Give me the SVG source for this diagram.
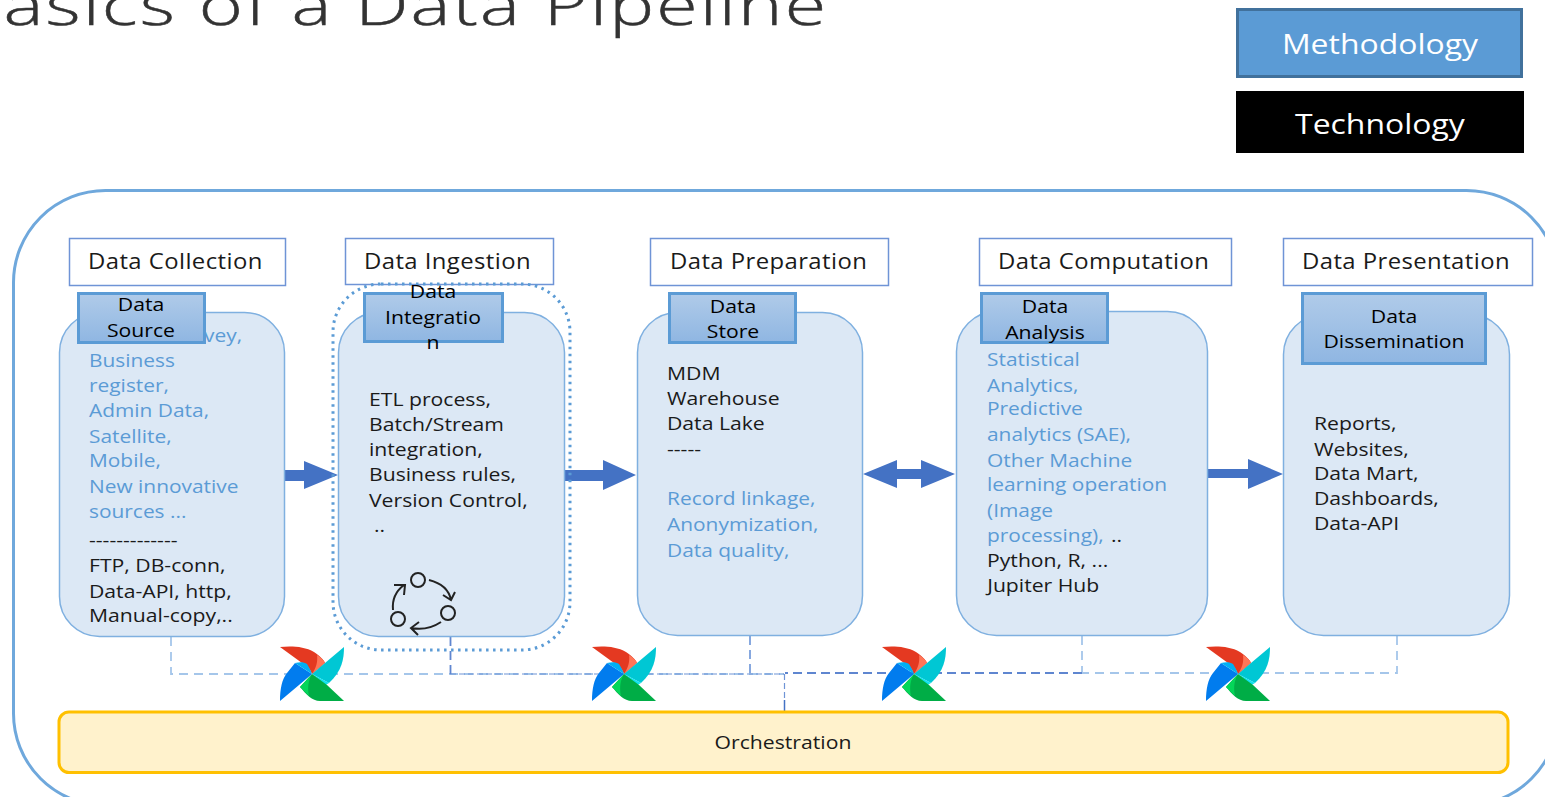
<svg xmlns="http://www.w3.org/2000/svg" width="1545" height="797" viewBox="0 0 1545 797">
<style>
text{font-family:"Open Sans","Noto Sans","Liberation Sans",sans-serif;font-size:19px;fill:#1a1a1a;transform:scaleX(1.115);transform-box:fill-box;transform-origin:0% 50%}
.m{text-anchor:middle;transform-origin:50% 50%}
.h{font-size:22px;letter-spacing:.4px;transform:scaleX(1.085)}
.b{fill:#5b9bd5;font-weight:500;transform:scaleX(1.1)}
.t{fill:#000}
.leg{font-size:28px;fill:#fff;transform:scaleX(1.14)}
.hdr{fill:#fff;stroke:#6f94d6;stroke-width:1.5}
.card{fill:#dce8f5;stroke:#7fb0e0;stroke-width:1.5}
.tab{fill:url(#tabg);stroke:#5b9bd5;stroke-width:3}
.dl{fill:none;stroke:#a5c6ea;stroke-width:1.8;stroke-dasharray:9 6}
.dd{fill:none;stroke:#5f86d0;stroke-width:1.8;stroke-dasharray:9 5}
.df{fill:none;stroke:#6f94d6;stroke-width:1.2;stroke-dasharray:6 3}
.ar{fill:#4472c4}
</style>
<defs>
<linearGradient id="tabg" x1="0" y1="0" x2="0" y2="1"><stop offset="0" stop-color="#b0cbe9"/><stop offset="1" stop-color="#8fb6e2"/></linearGradient>
<g id="pin">
<path fill="#e43921" d="M-32,-27C-22,-28 -8,-28 2,-22C8,-18 12,-14 13,-11L0,0C-2,-5 -5,-9 -10,-11Z"/>
<path fill="#ff7557" d="M5,-19C9,-16 12,-14 13,-11L0,0C4,-6 6,-12 5,-19Z"/>
<path fill="#00c7d4" d="M32,-27C32,-15 30,-3 17,9L0,0L13,-11Z"/>
<path fill="#11e1ee" d="M0,0L17,9L12,12C8,7 4,3 0,0Z"/>
<path fill="#00ad46" d="M32,27L15,11L0,0L-12,13C-6,20 0,27 8,27Z"/>
<path fill="#04d659" d="M0,0L-12,13C-8,17 -5,20 -3,22C-5,12 -3,5 0,0Z"/>
<path fill="#017cee" d="M-32,27C-32,15 -30,5 -25,-1L-17,-11L0,0L-13,11Z"/>
<path fill="#00b0f5" d="M-17,-11C-12,-12 -8,-12 -5,-10C-3,-7 -1,-3 0,0Z"/>
</g>
</defs>

<g id="title"><text x="-46" y="25" style="font-size:56px;font-weight:300;fill:#333;stroke:#333;stroke-width:.5;letter-spacing:1.6px;transform:scaleX(1.345)">Basics of a Data Pipeline</text></g>

<g id="legend-methodology"><rect x="1237.500" y="9.500" width="284" height="67" fill="#5b9bd5" stroke="#41719c" stroke-width="3"/><text class="m leg" x="1380" y="54">Methodology</text></g>
<g id="legend-technology"><rect x="1236" y="91" width="288" height="62" fill="#000"/><text class="m leg" x="1380" y="134">Technology</text></g>

<g id="frame"><rect x="13.500" y="190.500" width="1545" height="615" rx="92" ry="92" fill="none" stroke="#6fa8dc" stroke-width="3"/></g>

<g id="connectors">
<path class="dl" d="M171,637V674H784"/>
<path class="df" d="M450,674H784"/>
<path class="dd" d="M450.500,637V674"/>
<path class="dd" d="M750,636V673" style="stroke:#7a9fdc"/>
<path class="dl" d="M1082,636V673"/>
<path class="dd" d="M1082,673H785"/>
<path class="dl" d="M1397,636V673H1082"/>
<path class="df" d="M784.500,674V700"/>
<path d="M784.500,700V712" fill="none" stroke="#4472c4" stroke-width="1.500"/>
<path class="ar" d="M284,470H304V461L338,475L304,489V481H284Z"/>
<path class="ar" d="M564,470H603V460L636,475L603,490V481H564Z"/>
<path class="ar" d="M863,474L897,460V469H921V460L955,474L921,488V479H897V488Z"/>
<path class="ar" d="M1207,469H1248V459L1283,474L1248,489V478H1207Z"/>
</g>

<g id="collection">
<rect class="hdr" x="69.500" y="238.500" width="216" height="47"/>
<text class="h" x="88" y="269">Data Collection</text>
<rect class="card" x="59.500" y="312.500" width="225" height="324" rx="40"/>
<text class="b" x="204" y="342">vey,</text>
<text class="b" x="89" y="367">Business</text>
<text class="b" x="89" y="392">register,</text>
<text class="b" x="89" y="417">Admin Data,</text>
<text class="b" x="89" y="443">Satellite,</text>
<text class="b" x="89" y="467">Mobile,</text>
<text class="b" x="89" y="493">New innovative</text>
<text class="b" x="89" y="518">sources ...</text>
<text x="89" y="547">-------------</text>
<text x="89" y="572">FTP, DB-conn,</text>
<text x="89" y="598">Data-API, http,</text>
<text x="89" y="622">Manual-copy,..</text>
<rect class="tab" x="78.500" y="293.500" width="126" height="49"/>
<text class="m t" x="141" y="311">Data</text>
<text class="m t" x="141" y="337">Source</text>
</g>

<g id="ingestion">
<rect class="hdr" x="345.500" y="238.500" width="208" height="46"/>
<text class="h" x="364" y="269">Data Ingestion</text>
<rect x="333" y="284" width="237" height="366" rx="48" fill="none" stroke="#5b9bd5" stroke-width="3" stroke-dasharray="2.500 4.500"/>
<rect class="card" x="338.500" y="312.500" width="226" height="324" rx="40"/>
<rect class="tab" x="364.500" y="293.500" width="138" height="48"/>
<text class="m t" x="433" y="298">Data</text>
<text class="m t" x="433" y="324">Integratio</text>
<text class="m t" x="433" y="349">n</text>
<text x="369" y="406">ETL process,</text>
<text x="369" y="431">Batch/Stream</text>
<text x="369" y="456">integration,</text>
<text x="369" y="481">Business rules,</text>
<text x="369" y="507">Version Control,</text>
<text x="374" y="532">..</text>
<g fill="none" stroke="#222" stroke-width="2">
<circle cx="418" cy="580" r="7"/><circle cx="448" cy="613" r="7"/><circle cx="398" cy="619" r="7"/>
<path d="M429,580C441,583 449,590 451,600M455,592L451,600L443,595"/>
<path d="M441,622C432,628 421,630 411,628M418,635L411,628L419,622"/>
<path d="M393,610C392,600 396,591 404,585M394,585H405L404,595"/>
</g>
</g>

<g id="preparation">
<rect class="hdr" x="650.500" y="238.500" width="238" height="47"/>
<text class="h" x="670" y="269">Data Preparation</text>
<rect class="card" x="637.500" y="312.500" width="225" height="323" rx="40"/>
<rect class="tab" x="669.500" y="293.500" width="126" height="49"/>
<text class="m t" x="733" y="313">Data</text>
<text class="m t" x="733" y="338">Store</text>
<text x="667" y="380">MDM</text>
<text x="667" y="405">Warehouse</text>
<text x="667" y="430">Data Lake</text>
<text x="667" y="456">-----</text>
<text class="b" x="667" y="505">Record linkage,</text>
<text class="b" x="667" y="531">Anonymization,</text>
<text class="b" x="667" y="557">Data quality,</text>
</g>

<g id="computation">
<rect class="hdr" x="979.500" y="238.500" width="252" height="47"/>
<text class="h" x="998" y="269">Data Computation</text>
<rect class="card" x="956.500" y="311.500" width="251" height="324" rx="40"/>
<rect class="tab" x="981.500" y="293.500" width="126" height="49"/>
<text class="m t" x="1045" y="313">Data</text>
<text class="m t" x="1045" y="339">Analysis</text>
<text class="b" x="987" y="366">Statistical</text>
<text class="b" x="987" y="392">Analytics,</text>
<text class="b" x="987" y="415">Predictive</text>
<text class="b" x="987" y="441">analytics (SAE),</text>
<text class="b" x="987" y="467">Other Machine</text>
<text class="b" x="987" y="491">learning operation</text>
<text class="b" x="987" y="517">(Image</text>
<text class="b" x="987" y="542">processing),</text>
<text x="1111" y="542">..</text>
<text x="987" y="567">Python, R, ...</text>
<text x="987" y="592">Jupiter Hub</text>
</g>

<g id="presentation">
<rect class="hdr" x="1283.500" y="238.500" width="249" height="47"/>
<text class="h" x="1302" y="269">Data Presentation</text>
<rect class="card" x="1283.500" y="314.500" width="226" height="321" rx="40"/>
<rect class="tab" x="1302.500" y="293.500" width="183" height="70"/>
<text class="m t" x="1394" y="323">Data</text>
<text class="m t" x="1394" y="348">Dissemination</text>
<text x="1314" y="430">Reports,</text>
<text x="1314" y="456">Websites,</text>
<text x="1314" y="480">Data Mart,</text>
<text x="1314" y="505">Dashboards,</text>
<text x="1314" y="530">Data-API</text>
</g>

<g id="orchestration">
<rect x="59" y="712" width="1449" height="60.500" rx="10" fill="#fff2cc" stroke="#ffc000" stroke-width="3"/>
<text class="m" x="783" y="749">Orchestration</text>
</g>

<g id="pinwheels">
<use href="#pin" x="312" y="674"/>
<use href="#pin" x="624" y="674"/>
<use href="#pin" x="914" y="674"/>
<use href="#pin" x="1238" y="674"/>
</g>
</svg>
